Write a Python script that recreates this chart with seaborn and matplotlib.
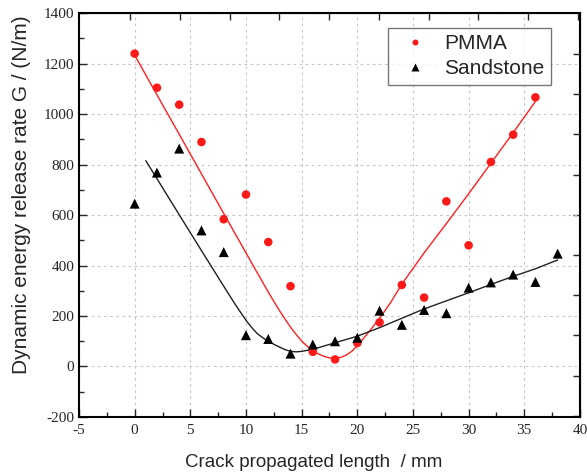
import numpy as np
import pandas as pd
import seaborn as sns
import matplotlib.pyplot as plt

# measured points
crack_x = [0, 2, 4, 6, 8, 10, 12, 14, 16, 18, 20, 22, 24, 26, 28, 30, 32, 34, 36, 38]
pmma_g = [1239, 1104, 1037, 889, 583, 681, 493, 318, 58, 28, 93, 175, 323, 273, 654, 480, 810, 918, 1066]
sandstone_g = [645, 768, 863, 539, 453, 124, 109, 51, 87, 100, 114, 221, 165, 224, 211, 312, 333, 364, 335, 447]

# fitted curves
pmma_fit_x = [0, 2, 4, 6, 8, 10, 11, 12, 12.5, 13, 13.5, 14, 14.5, 15, 15.5, 16, 16.5, 17, 17.5, 18,
              18.5, 19, 19.5, 20, 20.5, 21, 21.5, 22, 22.5, 23, 24, 26, 28, 30, 32, 34, 36]
pmma_fit_g = [1233, 1076, 920, 763, 606, 450, 372, 295, 258, 222, 188, 156, 127, 101, 80, 63, 50, 40, 34, 33,
              36, 45, 60, 82, 108, 135, 163, 191, 222, 254, 326, 450, 566, 684, 805, 926, 1050]
sand_fit_x = [1, 2, 4, 6, 8, 9, 10, 10.5, 11, 11.5, 12, 12.5, 13, 13.5, 14, 14.5, 15, 16, 18, 20,
              22, 24, 26, 28, 30, 32, 34, 36, 38]
sand_fit_g = [815, 744, 601, 459, 318, 248, 183, 155, 131, 114, 100, 88, 77, 67, 60, 58, 60, 68, 94, 120,
              154, 191, 228, 260, 292, 325, 357, 387, 422]

pts = pd.concat([
    pd.DataFrame({"x": crack_x[:len(pmma_g)], "G": pmma_g, "series": "PMMA"}),
    pd.DataFrame({"x": crack_x, "G": sandstone_g, "series": "Sandstone"}),
])
fit_pmma = pd.DataFrame({"x": pmma_fit_x, "G": pmma_fit_g})
fit_sand = pd.DataFrame({"x": sand_fit_x, "G": sand_fit_g})

sns.set_style("ticks")
plt.rcParams['font.family'] = ['Liberation Sans', 'DejaVu Sans']
plt.rcParams['axes.unicode_minus'] = False

fig, ax = plt.subplots(figsize=(5.87, 4.73), dpi=100)
fig.subplots_adjust(left=0.1346, right=0.988, top=0.9725, bottom=0.1184)

ax.grid(True, which="major", linestyle=(0, (2.5, 3)), color="#c8c8c8", linewidth=0.8)
ax.set_axisbelow(True)

sns.lineplot(data=fit_pmma, x="x", y="G", color="#ff2020", linewidth=1.0, ax=ax, legend=False)
sns.lineplot(data=fit_sand, x="x", y="G", color="#202020", linewidth=1.0, ax=ax, legend=False)
sns.scatterplot(data=pts, x="x", y="G", hue="series", style="series", size="series",
                palette={"PMMA": "#ff1a1a", "Sandstone": "black"},
                markers={"PMMA": "o", "Sandstone": "^"},
                sizes={"PMMA": 38, "Sandstone": 52}, edgecolor="none", ax=ax, zorder=3)

ax.set_xlim(-5, 40)
ax.set_ylim(-200, 1400)
ax.set_xticks(range(-5, 41, 5))
ax.set_yticks(range(-200, 1401, 200))
ax.set_xticks(np.arange(-2.5, 40, 5), minor=True)
ax.set_yticks(range(-100, 1400, 200), minor=True)
ax.tick_params(which="major", direction="in", length=6, width=1.0, labelsize=11)
ax.tick_params(which="minor", direction="in", length=3.5, width=1.0)
ax.tick_params(axis="x", which="major", pad=5)
for lab in ax.get_xticklabels() + ax.get_yticklabels():
    lab.set_fontfamily("Liberation Serif")
for sp in ax.spines.values():
    sp.set_linewidth(1.5)
    sp.set_color("black")

# mirrored axes (unlinked scale, as in the original)
top = ax.secondary_xaxis("top")
top.set_xticks(np.arange(-0.42, 40.2, 4.47), labels=[])
top.tick_params(direction="in", length=5, width=1.0)
right = ax.secondary_yaxis("right")
right.set_yticks(np.arange(1238.6, -201, -159.4), labels=[])
right.tick_params(direction="in", length=5, width=1.0)

ax.set_xlabel("Crack propagated length  / mm", fontsize=13.5, labelpad=12)
ax.set_ylabel("Dynamic energy release rate G / (N/m)", fontsize=15, labelpad=9)
ax.xaxis.label.set_x(0.469)
ax.yaxis.label.set_y(0.55)

leg = ax.legend(loc="upper right", bbox_to_anchor=(0.942, 0.963), borderaxespad=0, fontsize=15,
                frameon=True, fancybox=False, edgecolor="#555555",
                handletextpad=0.4, borderpad=0.3, labelspacing=0.3, markerscale=0.7)
leg.get_frame().set_linewidth(1.0)

fig.savefig("out.png", dpi=100)
